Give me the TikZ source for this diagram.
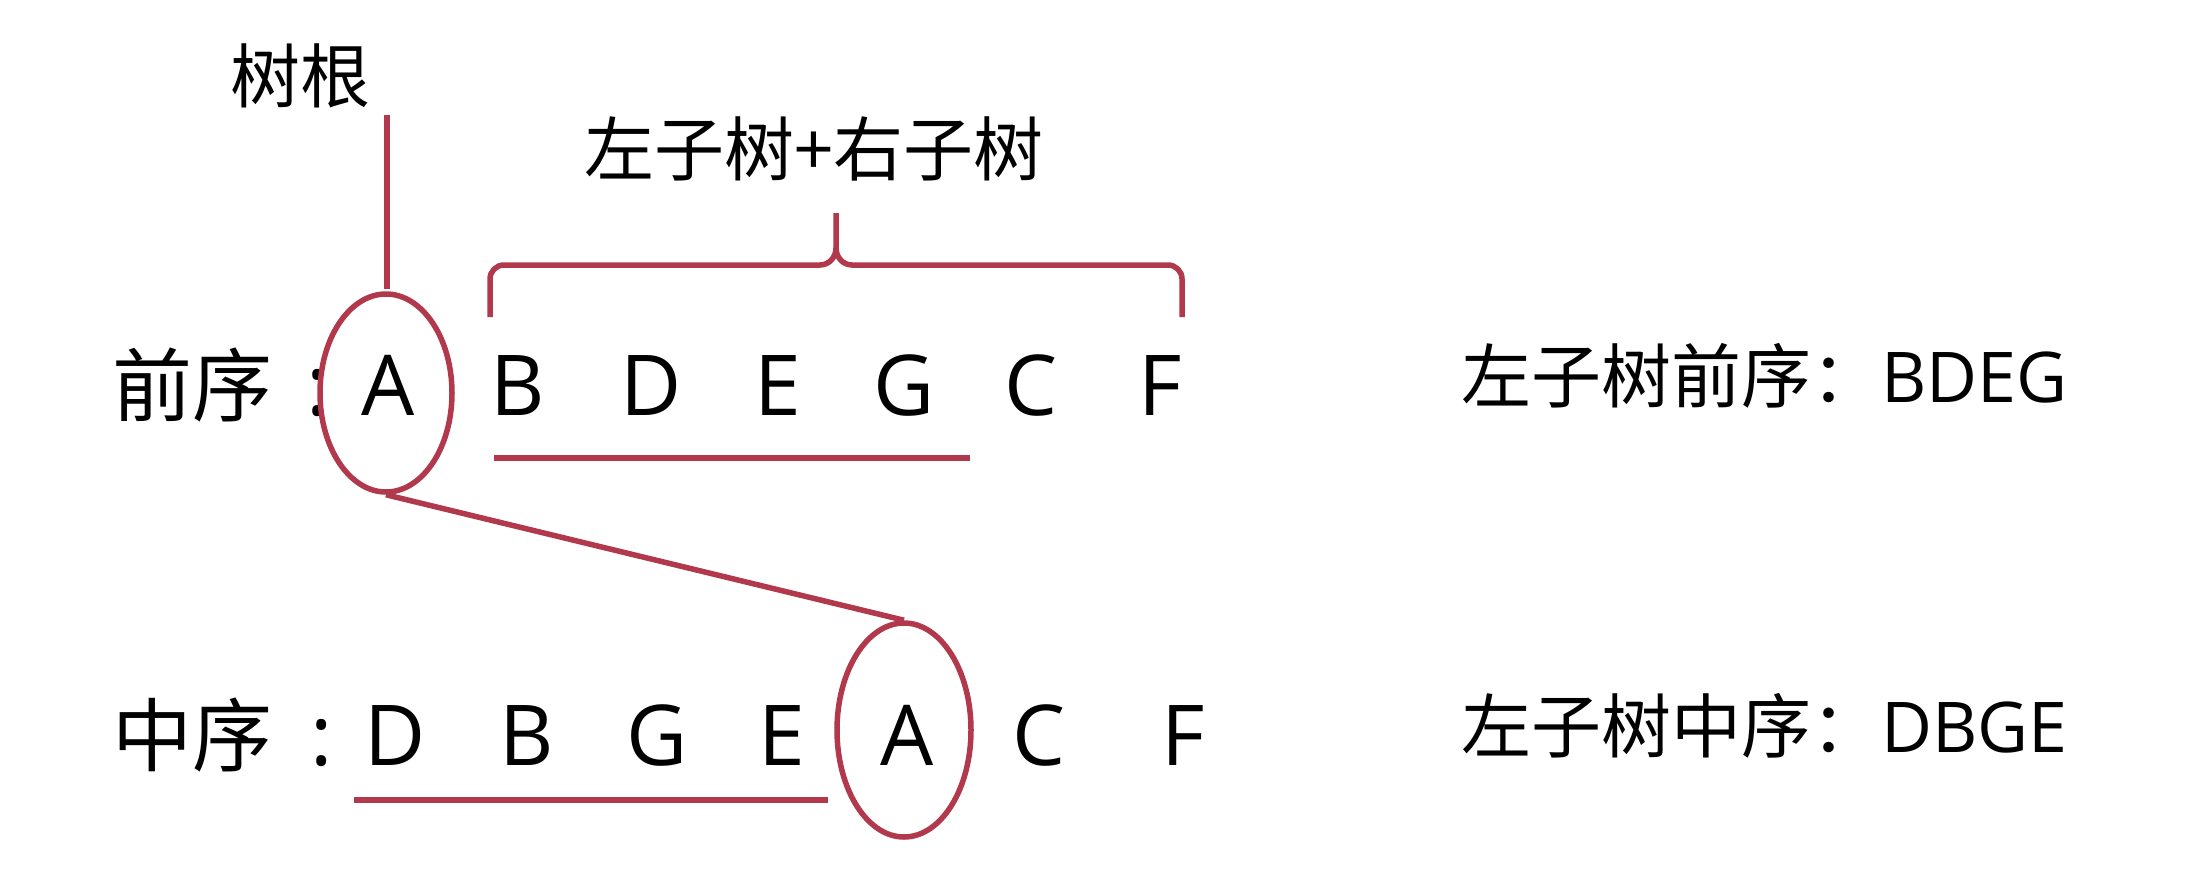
\documentclass[tikz,border=0pt]{standalone}
\usepackage{fontspec}
\setmainfont{Open Sans}
\newfontfamily\cjk{Noto Sans CJK SC}
\usetikzlibrary{shapes.geometric}
\definecolor{lred}{RGB}{178,56,76}
\begin{document}
\begin{tikzpicture}[x=1pt,y=-1pt,
  letter/.style={anchor=base,inner sep=0pt,font=\fontsize{84}{84}\selectfont},
  rowlbl/.style={anchor=base west,inner sep=0pt,font=\cjk\fontsize{80}{80}\selectfont},
  toplbl/.style={inner sep=0pt,font=\cjk\fontsize{70}{70}\selectfont},
  sidelbl/.style={anchor=base west,inner sep=0pt,font=\fontsize{70}{70}\selectfont},
  redline/.style={draw=lred,line width=5.5pt},
  ring/.style={ellipse,draw=lred,line width=5.5pt,inner sep=0pt}
]
\fill[white] (0,0) rectangle (2192,886);
\useasboundingbox (0,0) rectangle (2192,886);

% top labels
\node[toplbl] (root) at (300,76) {树根};
\node[toplbl] (sub) at (814,149) {左子树+右子树};

% preorder row
\node[rowlbl] (pre) at (112,415) {前序};
\node[letter] (pc) at (318,415) {:};
\node[letter] (pA) at (388,415) {A};
\node[letter] (pB) at (518,415) {B};
\node[letter] (pD) at (651,415) {D};
\node[letter] (pE) at (778,415) {E};
\node[letter] (pG) at (904,415) {G};
\node[letter] (pC) at (1031,415) {C};
\node[letter] (pF) at (1160,415) {F};

% inorder row
\node[rowlbl] (in) at (112,765) {中序};
\node[letter] (ic) at (322,765) {:};
\node[letter] (iD) at (395,765) {D};
\node[letter] (iB) at (527,765) {B};
\node[letter] (iG) at (657,765) {G};
\node[letter] (iE) at (782,765) {E};
\node[letter] (iA) at (907,765) {A};
\node[letter] (iC) at (1039,765) {C};
\node[letter] (iF) at (1183,765) {F};

% right side
\node[sidelbl] (lpre) at (1461,402) {{\cjk 左子树前序：}BDEG};
\node[sidelbl] (lin) at (1461,752) {{\cjk 左子树中序：}DBGE};

% rings
\node[ring,minimum width=132pt,minimum height=198pt] (ringTop) at (386,393) {};
\node[ring,minimum width=134pt,minimum height=214pt] (ringBot) at (904,730) {};

% root pointer
\coordinate (rootTop) at (387,115);
\coordinate (rootBot) at (387,289);
\draw[redline] (rootTop) -- (rootBot);

% connector between the two A's
\draw[redline] (ringTop.south) -- (ringBot.north);

% underlines
\coordinate (ul1a) at (494,458);
\coordinate (ul1b) at (970,458);
\coordinate (ul2a) at (354,800);
\coordinate (ul2b) at (828,800);
\draw[redline,line width=6.5pt] (ul1a) -- (ul1b);
\draw[redline,line width=6.5pt] (ul2a) -- (ul2b);

% brace
\draw[redline,line join=round]
  (490,317) -- (490,279) to[out=90,in=180] (504,265) -- (820,265)
  to[out=0,in=-90] (836,248) -- (836,213)
  (836,248) to[out=-90,in=180] (852,265) -- (1168,265)
  to[out=0,in=90] (1182,279) -- (1182,317);
\end{tikzpicture}
\end{document}
